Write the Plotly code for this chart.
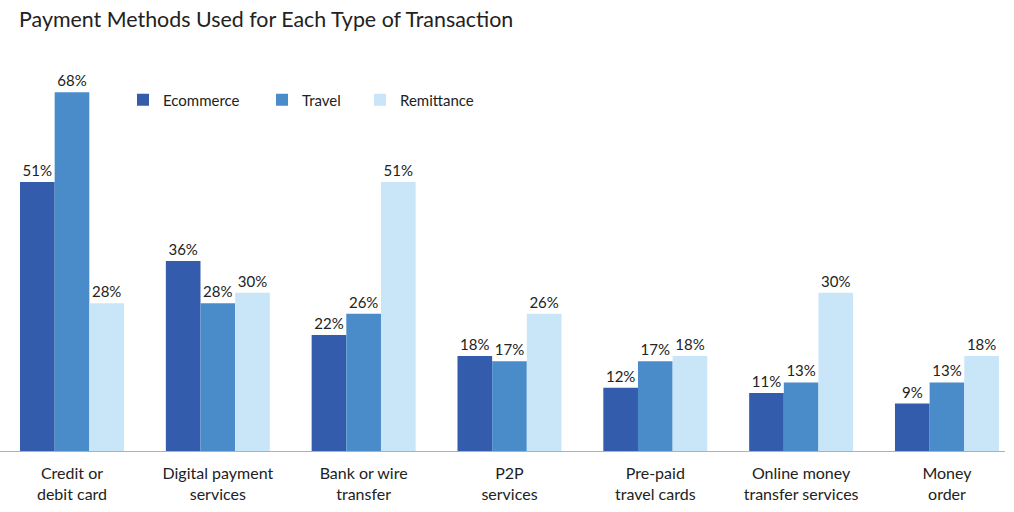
import plotly.graph_objects as go

categories = ["Credit or<br>debit card", "Digital payment<br>services", "Bank or wire<br>transfer",
              "P2P<br>services", "Pre-paid<br>travel cards", "Online money<br>transfer services", "Money<br>order"]
ecommerce = [51, 36, 22, 18, 12, 11, 9]
travel = [68, 28, 26, 17, 17, 13, 13]
remittance = [28, 30, 51, 26, 18, 30, 18]

series = [("Ecommerce", ecommerce, "#345CAC", "legend"),
          ("Travel", travel, "#4A8BCA", "legend2"),
          ("Remittance", remittance, "#C8E6F7", "legend3")]

FONT = "Lato"
fig = go.Figure()
for name, vals, col, lg in series:
    fig.add_trace(go.Bar(
        x=categories, y=vals, name=name, marker=dict(color=col, line=dict(width=0)),
        text=[f"{v}%" for v in vals], textposition="outside", cliponaxis=False,
        textfont=dict(size=15, color="#222222", family=FONT), legend=lg, showlegend=True,
        hoverinfo="skip"))

leg_common = dict(orientation="h", yanchor="middle", xanchor="left",
                  font=dict(size=15, color="#222222", family=FONT),
                  bgcolor="rgba(0,0,0,0)", itemclick=False)
fig.update_layout(
    width=1014, height=512,
    margin=dict(l=0, r=9, t=29, b=61),
    paper_bgcolor="white", plot_bgcolor="white",
    showlegend=True,
    font=dict(family=FONT, color="#222222"),
    title=dict(text="Payment Methods Used for Each Type of Transaction", x=19/1014, xanchor="left",
               y=1 - 20/512, yanchor="middle", font=dict(size=21.4, color="#222222", family=FONT)),
    barmode="group", bargap=0.287, bargroupgap=0,
    legend=dict(x=(123) / 1005, y=(451 - 100) / 422, **leg_common),
    legend2=dict(x=(262) / 1005, y=(451 - 100) / 422, **leg_common),
    legend3=dict(x=(360) / 1005, y=(451 - 100) / 422, **leg_common),
    xaxis=dict(range=[-0.4937, 6.398], showline=True, linecolor="#b0b0b0", linewidth=1,
               ticks="", ticklabelstandoff=8, automargin=False,
               tickfont=dict(size=16, color="#222222", family=FONT), showgrid=False),
    yaxis=dict(range=[0, 80], visible=False, showgrid=False, zeroline=False),
)
fig.write_html("out.html", config={"displayModeBar": False},
               post_script="document.body.style.margin='0';document.body.style.overflow='hidden';")
